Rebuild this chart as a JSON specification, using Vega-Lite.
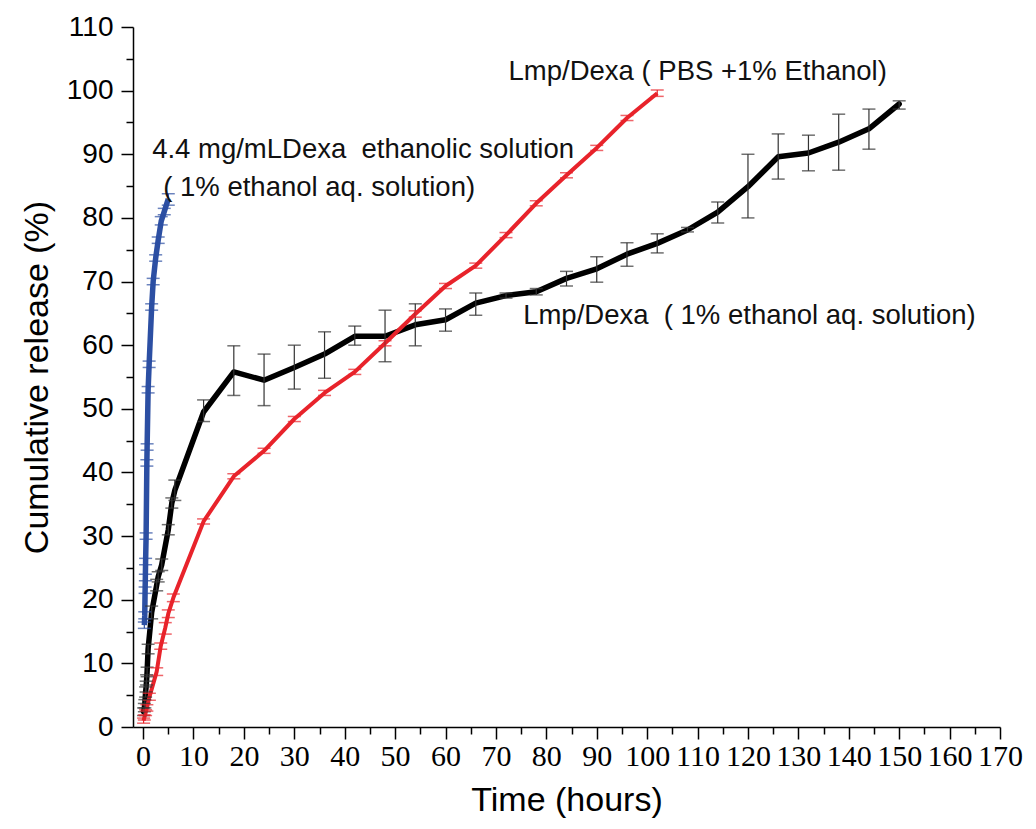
{
  "$schema": "https://vega.github.io/schema/vega-lite/v6.json",
  "width": 867,
  "height": 700,
  "autosize": "none",
  "padding": {"left": 133, "top": 27, "right": 36, "bottom": 102},
  "background": "white",
  "config": {
    "view": {"stroke": null},
    "axis": {"grid": false, "domainColor": "#000", "domainWidth": 1.5, "tickColor": "#000", "tickWidth": 1.5, "labelColor": "#000", "titleColor": "#000"}
  },
  "datasets": {
    "release": [
      {"series": "Lmp/Dexa 1% ethanol", "t": 0.1, "y": 2.4, "lo": 1.8, "hi": 3.0},
      {"series": "Lmp/Dexa 1% ethanol", "t": 0.25, "y": 3.0, "lo": 2.4, "hi": 3.7},
      {"series": "Lmp/Dexa 1% ethanol", "t": 0.35, "y": 3.7, "lo": 3.0, "hi": 4.3},
      {"series": "Lmp/Dexa 1% ethanol", "t": 0.5, "y": 5.5, "lo": 4.7, "hi": 6.3},
      {"series": "Lmp/Dexa 1% ethanol", "t": 0.6, "y": 6.3, "lo": 5.5, "hi": 7.2},
      {"series": "Lmp/Dexa 1% ethanol", "t": 0.7, "y": 7.4, "lo": 6.6, "hi": 8.2},
      {"series": "Lmp/Dexa 1% ethanol", "t": 0.8, "y": 8.7, "lo": 7.9, "hi": 9.4},
      {"series": "Lmp/Dexa 1% ethanol", "t": 1.0, "y": 12.3, "lo": 11.5, "hi": 13.0},
      {"series": "Lmp/Dexa 1% ethanol", "t": 1.7, "y": 18.0, "lo": 17.0, "hi": 19.0},
      {"series": "Lmp/Dexa 1% ethanol", "t": 2.7, "y": 22.3, "lo": 21.4, "hi": 23.2},
      {"series": "Lmp/Dexa 1% ethanol", "t": 3.0, "y": 23.6, "lo": 22.8, "hi": 24.4},
      {"series": "Lmp/Dexa 1% ethanol", "t": 3.7, "y": 25.5, "lo": 24.6, "hi": 26.4},
      {"series": "Lmp/Dexa 1% ethanol", "t": 5.0, "y": 31.0, "lo": 30.2, "hi": 31.8},
      {"series": "Lmp/Dexa 1% ethanol", "t": 5.7, "y": 35.2, "lo": 34.4, "hi": 36.0},
      {"series": "Lmp/Dexa 1% ethanol", "t": 6.3, "y": 37.2, "lo": 35.6, "hi": 38.8},
      {"series": "Lmp/Dexa 1% ethanol", "t": 12, "y": 49.5, "lo": 48.0, "hi": 51.4},
      {"series": "Lmp/Dexa 1% ethanol", "t": 18, "y": 55.8, "lo": 52.1, "hi": 59.9},
      {"series": "Lmp/Dexa 1% ethanol", "t": 24, "y": 54.5, "lo": 50.5, "hi": 58.6},
      {"series": "Lmp/Dexa 1% ethanol", "t": 30, "y": 56.5, "lo": 53.1, "hi": 60.0},
      {"series": "Lmp/Dexa 1% ethanol", "t": 36, "y": 58.6, "lo": 54.8, "hi": 62.1},
      {"series": "Lmp/Dexa 1% ethanol", "t": 42, "y": 61.4, "lo": 60.0, "hi": 63.0},
      {"series": "Lmp/Dexa 1% ethanol", "t": 48, "y": 61.4, "lo": 57.4, "hi": 65.5},
      {"series": "Lmp/Dexa 1% ethanol", "t": 54, "y": 63.2, "lo": 59.9, "hi": 66.5},
      {"series": "Lmp/Dexa 1% ethanol", "t": 60, "y": 64.0, "lo": 62.2, "hi": 65.7},
      {"series": "Lmp/Dexa 1% ethanol", "t": 66, "y": 66.6, "lo": 64.7, "hi": 68.2},
      {"series": "Lmp/Dexa 1% ethanol", "t": 72, "y": 67.8, "lo": 67.4, "hi": 68.2},
      {"series": "Lmp/Dexa 1% ethanol", "t": 78, "y": 68.4, "lo": 67.9, "hi": 68.9},
      {"series": "Lmp/Dexa 1% ethanol", "t": 84, "y": 70.5, "lo": 69.3, "hi": 71.6},
      {"series": "Lmp/Dexa 1% ethanol", "t": 90, "y": 72.0, "lo": 69.9, "hi": 73.9},
      {"series": "Lmp/Dexa 1% ethanol", "t": 96, "y": 74.3, "lo": 72.4, "hi": 76.1},
      {"series": "Lmp/Dexa 1% ethanol", "t": 102, "y": 76.0, "lo": 74.5, "hi": 77.5},
      {"series": "Lmp/Dexa 1% ethanol", "t": 108, "y": 78.1, "lo": 77.8, "hi": 78.5},
      {"series": "Lmp/Dexa 1% ethanol", "t": 114, "y": 80.9, "lo": 79.2, "hi": 82.5},
      {"series": "Lmp/Dexa 1% ethanol", "t": 120, "y": 84.9, "lo": 80.0, "hi": 90.0},
      {"series": "Lmp/Dexa 1% ethanol", "t": 126, "y": 89.6, "lo": 86.1, "hi": 93.2},
      {"series": "Lmp/Dexa 1% ethanol", "t": 132, "y": 90.2, "lo": 87.4, "hi": 93.0},
      {"series": "Lmp/Dexa 1% ethanol", "t": 138, "y": 91.9, "lo": 87.5, "hi": 96.3},
      {"series": "Lmp/Dexa 1% ethanol", "t": 144, "y": 94.0, "lo": 90.8, "hi": 97.1},
      {"series": "Lmp/Dexa 1% ethanol", "t": 150, "y": 97.9, "lo": 97.1, "hi": 98.4},

      {"series": "Lmp/Dexa PBS", "t": 0.1, "y": 1.0, "lo": 0.6, "hi": 1.4},
      {"series": "Lmp/Dexa PBS", "t": 0.25, "y": 1.5, "lo": 1.1, "hi": 1.9},
      {"series": "Lmp/Dexa PBS", "t": 0.5, "y": 2.2, "lo": 1.8, "hi": 2.7},
      {"series": "Lmp/Dexa PBS", "t": 0.75, "y": 3.0, "lo": 2.5, "hi": 3.5},
      {"series": "Lmp/Dexa PBS", "t": 1.25, "y": 4.7, "lo": 4.2, "hi": 5.3},
      {"series": "Lmp/Dexa PBS", "t": 2.7, "y": 8.7, "lo": 8.1, "hi": 9.3},
      {"series": "Lmp/Dexa PBS", "t": 3.5, "y": 12.7, "lo": 12.2, "hi": 13.2},
      {"series": "Lmp/Dexa PBS", "t": 4.4, "y": 15.6, "lo": 14.6, "hi": 16.4},
      {"series": "Lmp/Dexa PBS", "t": 5.0, "y": 17.8, "lo": 17.2, "hi": 18.4},
      {"series": "Lmp/Dexa PBS", "t": 6, "y": 20.3, "lo": 19.7, "hi": 20.9},
      {"series": "Lmp/Dexa PBS", "t": 12, "y": 32.3, "lo": 31.9, "hi": 32.7},
      {"series": "Lmp/Dexa PBS", "t": 18, "y": 39.4, "lo": 39.0, "hi": 39.8},
      {"series": "Lmp/Dexa PBS", "t": 24, "y": 43.4, "lo": 43.0, "hi": 43.8},
      {"series": "Lmp/Dexa PBS", "t": 30, "y": 48.4, "lo": 48.0, "hi": 48.8},
      {"series": "Lmp/Dexa PBS", "t": 36, "y": 52.5, "lo": 52.1, "hi": 52.9},
      {"series": "Lmp/Dexa PBS", "t": 42, "y": 55.8, "lo": 55.4, "hi": 56.2},
      {"series": "Lmp/Dexa PBS", "t": 48, "y": 60.3, "lo": 59.9, "hi": 60.7},
      {"series": "Lmp/Dexa PBS", "t": 54, "y": 64.9, "lo": 64.4, "hi": 65.4},
      {"series": "Lmp/Dexa PBS", "t": 60, "y": 69.3, "lo": 68.9, "hi": 69.7},
      {"series": "Lmp/Dexa PBS", "t": 66, "y": 72.5, "lo": 72.1, "hi": 72.9},
      {"series": "Lmp/Dexa PBS", "t": 72, "y": 77.3, "lo": 76.9, "hi": 77.7},
      {"series": "Lmp/Dexa PBS", "t": 78, "y": 82.3, "lo": 81.9, "hi": 82.7},
      {"series": "Lmp/Dexa PBS", "t": 84, "y": 86.7, "lo": 86.3, "hi": 87.1},
      {"series": "Lmp/Dexa PBS", "t": 90, "y": 91.0, "lo": 90.6, "hi": 91.4},
      {"series": "Lmp/Dexa PBS", "t": 96, "y": 95.7, "lo": 95.3, "hi": 96.1},
      {"series": "Lmp/Dexa PBS", "t": 102, "y": 99.6, "lo": 99.1, "hi": 100.1},

      {"series": "Dexa ethanolic", "t": 0.25, "y": 16.0, "lo": 15.5, "hi": 16.5},
      {"series": "Dexa ethanolic", "t": 0.33, "y": 17.5, "lo": 17.0, "hi": 18.1},
      {"series": "Dexa ethanolic", "t": 0.4, "y": 21.5, "lo": 21.0, "hi": 22.0},
      {"series": "Dexa ethanolic", "t": 0.45, "y": 23.5, "lo": 23.0, "hi": 24.0},
      {"series": "Dexa ethanolic", "t": 0.5, "y": 26.0, "lo": 25.5, "hi": 26.5},
      {"series": "Dexa ethanolic", "t": 0.6, "y": 30.0, "lo": 29.5, "hi": 30.5},
      {"series": "Dexa ethanolic", "t": 0.75, "y": 41.5, "lo": 41.0, "hi": 42.0},
      {"series": "Dexa ethanolic", "t": 0.8, "y": 44.0, "lo": 43.5, "hi": 44.5},
      {"series": "Dexa ethanolic", "t": 1.0, "y": 53.0, "lo": 52.5, "hi": 53.5},
      {"series": "Dexa ethanolic", "t": 1.2, "y": 57.0, "lo": 56.5, "hi": 57.5},
      {"series": "Dexa ethanolic", "t": 1.7, "y": 66.0, "lo": 65.5, "hi": 66.5},
      {"series": "Dexa ethanolic", "t": 2.0, "y": 70.0, "lo": 69.5, "hi": 70.5},
      {"series": "Dexa ethanolic", "t": 2.5, "y": 73.7, "lo": 73.2, "hi": 74.2},
      {"series": "Dexa ethanolic", "t": 3.0, "y": 76.5, "lo": 76.0, "hi": 77.0},
      {"series": "Dexa ethanolic", "t": 3.6, "y": 79.5, "lo": 78.9, "hi": 80.2},
      {"series": "Dexa ethanolic", "t": 4.2, "y": 81.0, "lo": 80.5, "hi": 81.5},
      {"series": "Dexa ethanolic", "t": 5.0, "y": 83.0, "lo": 82.0, "hi": 83.8}
    ],
    "labels": [
      {"t": 72.5, "y": 102.9, "label": "Lmp/Dexa ( PBS +1% Ethanol)"},
      {"t": 1.8, "y": 90.7, "label": "4.4 mg/mLDexa\u00a0 ethanolic solution"},
      {"t": 4.0, "y": 84.7, "label": "( 1% ethanol aq. solution)"},
      {"t": 75.4, "y": 64.6, "label": "Lmp/Dexa\u00a0 ( 1% ethanol aq. solution)"}
    ]
  },
  "data": {"name": "release"},
  "encoding": {
    "x": {
      "field": "t", "type": "quantitative",
      "scale": {"domain": [-2, 170], "nice": false, "zero": false},
      "axis": {
        "title": "Time (hours)",
        "values": [0,5,10,15,20,25,30,35,40,45,50,55,60,65,70,75,80,85,90,95,100,105,110,115,120,125,130,135,140,145,150,155,160,165,170],
        "labelExpr": "datum.value % 10 === 0 ? datum.label : ''",
        "tickSize": {"condition": {"test": "datum.value % 10 === 0", "value": 12}, "value": 7},
        "labelFont": "Liberation Sans Narrow",
        "labelFontSize": 30,
        "labelPadding": 2,
        "labelOverlap": false,
        "labelFlush": false,
        "titleFont": "Liberation Sans",
        "titleFontSize": 34,
        "titleFontWeight": "normal",
        "titlePadding": 12
      }
    },
    "y": {
      "field": "y", "type": "quantitative",
      "scale": {"domain": [0, 110], "nice": false, "zero": false},
      "axis": {
        "title": "Cumulative release (%)",
        "values": [0,5,10,15,20,25,30,35,40,45,50,55,60,65,70,75,80,85,90,95,100,105,110],
        "labelExpr": "datum.value % 10 === 0 ? datum.label : ''",
        "tickSize": {"condition": {"test": "datum.value % 10 === 0", "value": 12}, "value": 7},
        "labelFont": "Liberation Sans",
        "labelFontSize": 28,
        "labelPadding": 8,
        "labelOverlap": false,
        "titleFont": "Liberation Sans",
        "titleFontSize": 34,
        "titleFontWeight": "normal",
        "titlePadding": 12
      }
    }
  },
  "layer": [
    {
      "transform": [{"filter": "datum.series === 'Lmp/Dexa 1% ethanol'"}],
      "mark": {"type": "line", "color": "#000000", "strokeWidth": 5.5, "strokeJoin": "round", "strokeCap": "round"}
    },
    {
      "transform": [{"filter": "datum.series === 'Lmp/Dexa PBS'"}],
      "mark": {"type": "line", "color": "#e8232b", "strokeWidth": 4, "strokeJoin": "round"}
    },
    {
      "transform": [{"filter": "datum.series === 'Dexa ethanolic'"}],
      "mark": {"type": "line", "color": "#2c4fa3", "strokeWidth": 5.5, "strokeJoin": "round"}
    },
    {
      "mark": {"type": "rule", "strokeWidth": 1.2},
      "encoding": {
        "y": {"field": "lo", "type": "quantitative"},
        "y2": {"field": "hi"},
        "color": {"field": "series", "type": "nominal", "legend": null,
          "scale": {"domain": ["Lmp/Dexa 1% ethanol", "Lmp/Dexa PBS", "Dexa ethanolic"], "range": ["#333333", "#e8232b", "#2c4fa3"]}}
      }
    },
    {
      "mark": {"type": "tick", "orient": "horizontal", "size": 13, "thickness": 1.5},
      "encoding": {
        "y": {"field": "lo", "type": "quantitative"},
        "color": {"field": "series", "type": "nominal", "legend": null}
      }
    },
    {
      "mark": {"type": "tick", "orient": "horizontal", "size": 13, "thickness": 1.5},
      "encoding": {
        "y": {"field": "hi", "type": "quantitative"},
        "color": {"field": "series", "type": "nominal", "legend": null}
      }
    },
    {
      "data": {"name": "labels"},
      "mark": {"type": "text", "align": "left", "baseline": "middle", "font": "Liberation Sans", "fontSize": 27.5, "color": "#111111"},
      "encoding": {
        "text": {"field": "label", "type": "nominal"}
      }
    }
  ]
}
